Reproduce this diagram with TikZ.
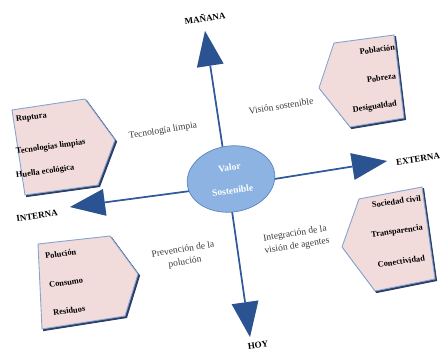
\documentclass[tikz,border=0pt]{standalone}
\usepackage{fontspec}
\setmainfont{Liberation Serif}
\usepackage{tikz}
\usetikzlibrary{calc, shapes.geometric, backgrounds}

\definecolor{headblue}{HTML}{2B5391}
\definecolor{shaftblue}{HTML}{2F5A9E}
\definecolor{boxpink}{HTML}{F2DCDB}
\definecolor{boxline}{HTML}{86A4D2}
\definecolor{boxshade}{HTML}{2A3F66}
\definecolor{ovalblue}{HTML}{8DB3E2}
\definecolor{ovalline}{HTML}{5B83C2}
\definecolor{labelgray}{HTML}{3A3A3A}

% big block arrow: start coordinate, tip coordinate
\newcommand{\axisarrow}[2]{%
  \coordinate (hb) at ($(#2)!35pt!(#1)$);
  \coordinate (h1) at ($(hb)!13.5pt!90:(#2)$);
  \coordinate (h2) at ($(hb)!13.5pt!-90:(#2)$);
  \begin{scope}[shift={(3.5,3.5)}]
    \draw[gray!40, line width=1.3pt] (#1) -- (hb);
    \fill[gray!35] (h1) -- (#2) -- (h2) -- cycle;
  \end{scope}
  \fill[headblue] (h1) -- (#2) -- (h2) -- cycle;
  \draw[shaftblue, line width=1.7pt] (#1) -- (hb);
}

\begin{document}
\begin{tikzpicture}[x=1pt, y=-1pt,
    pentabox/.style={fill=boxpink, draw=boxline, line width=0.9pt,
      preaction={fill=boxshade, draw=boxshade, line width=0.9pt,
        transform canvas={shift={(1.6pt,-1.6pt)}}}},
    item/.style={font=\fontsize{8.4}{9}\selectfont\bfseries, rotate=8, inner sep=0pt},
    axislabel/.style={font=\fontsize{9}{10}\selectfont\bfseries, rotate=8, inner sep=0pt},
    quadrant/.style={font=\fontsize{9.5}{12.5}\selectfont, text=labelgray, align=center, rotate=9, inner sep=0pt},
    valor/.style={ellipse, fill=ovalblue, draw=ovalline, line width=0.7pt, minimum width=88pt,
      minimum height=66pt, rotate=8, text=white, align=center,
      font=\fontsize{9.5}{11}\selectfont\bfseries}]
  \useasboundingbox (0,0) rectangle (444,358);

  % centre
  \node[valor] (valor) at (231,179) {Valor\\[12pt]Sostenible};

  % axis ends
  \coordinate (tipN) at (205,31);
  \coordinate (tipE) at (387,161);
  \coordinate (tipS) at (250,337);
  \coordinate (tipW) at (70,207);
  \coordinate (sN) at ($(valor.center)+(-6,-16)$);
  \coordinate (sE) at ($(valor.center)+(12,5)$);
  \coordinate (sS) at ($(valor.center)+(-1,18)$);
  \coordinate (sW) at ($(valor.center)+(-18,9)$);

  \begin{pgfonlayer}{background}
    \axisarrow{sN}{tipN}
    \axisarrow{sE}{tipE}
    \axisarrow{sS}{tipS}
    \axisarrow{sW}{tipW}
  \end{pgfonlayer}

  \node[axislabel] (manana) at (205,18) {MAÑANA};
  \node[axislabel] (externa) at (418,159) {EXTERNA};
  \node[axislabel] (hoy) at (258,345) {HOY};
  \node[axislabel] (interna) at (37,216) {INTERNA};

  % quadrant labels
  \node[quadrant] (tecno) at (163,131) {Tecnología limpia};
  \node[quadrant] (vision) at (281,106) {Visión sostenible};
  \node[quadrant] (prevencion) at (184,256) {Prevención de la\\polución};
  \node[quadrant] (integracion) at (296,240) {Integración de la\\visión de agentes};

  % pentagon boxes
  \draw[pentabox] (12,110) -- (85,99) -- (115,140) -- (98,185) -- (25,195) -- cycle;
  \draw[pentabox] (319,88) -- (334,43) -- (394,35) -- (404,118) -- (350,127) -- cycle;
  \draw[pentabox] (38,244) -- (110,236) -- (138,274) -- (125,316) -- (42,329) -- cycle;
  \draw[pentabox] (342,247) -- (359,199) -- (422,187) -- (435,279) -- (375,291) -- cycle;

  \node[item, anchor=west] (ruptura) at (16,120) {Ruptura};
  \node[item, anchor=west] (limpias) at (16,152) {Tecnologías limpias};
  \node[item, anchor=west] (huella) at (16,176) {Huella ecológica};

  \node[item, anchor=east] (poblacion) at (395,47) {Población};
  \node[item, anchor=east] (pobreza) at (396,76) {Pobreza};
  \node[item, anchor=east] (desigualdad) at (397,104) {Desigualdad};

  \node[item, anchor=west] (polucion) at (45,256) {Polución};
  \node[item, anchor=west] (consumo) at (49,285) {Consumo};
  \node[item, anchor=west] (residuos) at (53,313) {Residuos};

  \node[item, anchor=east] (sociedad) at (421,198) {Sociedad civil};
  \node[item, anchor=east] (transparencia) at (423,228) {Transparencia};
  \node[item, anchor=east] (conectividad) at (425,258) {Conectividad};
\end{tikzpicture}
\end{document}
